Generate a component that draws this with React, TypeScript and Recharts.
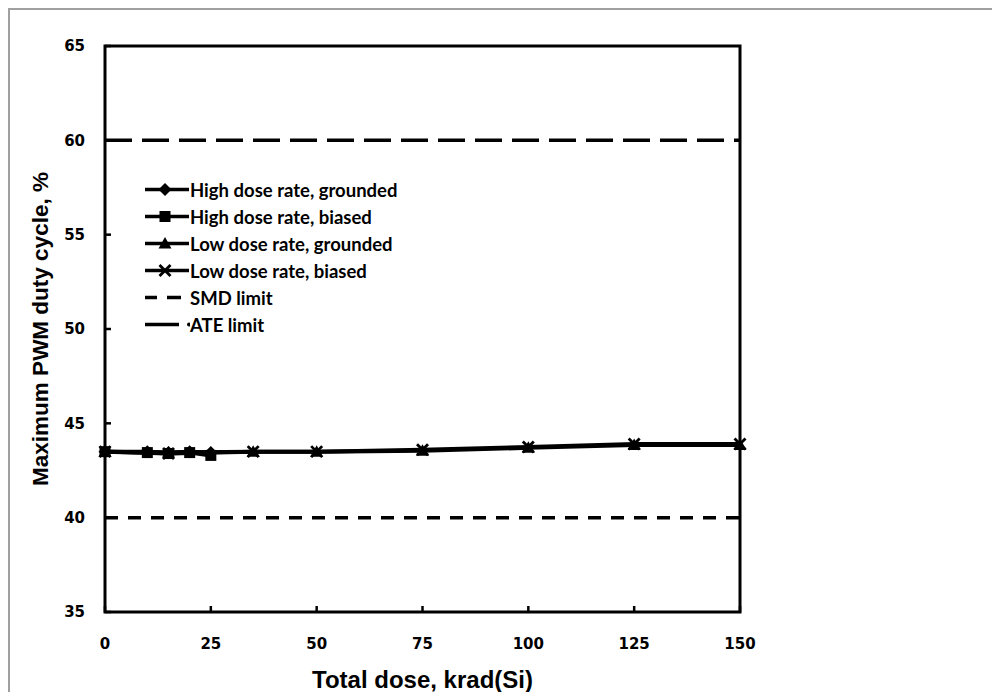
import React from "react";
import {
  LineChart,
  Line,
  XAxis,
  YAxis,
  ReferenceLine,
  ReferenceArea,
} from "recharts";

// axis ticks
const xTicks = [0, 25, 50, 75, 100, 125, 150];
const yTicks = [35, 40, 45, 50, 55, 60, 65];

// high dose rate samples
const hdrDose = [0, 10, 15, 20, 25];
const hdrGrounded = [43.5, 43.5, 43.45, 43.5, 43.45];
const hdrBiased = [43.5, 43.45, 43.4, 43.45, 43.3];

// low dose rate samples
const ldrDose = [0, 15, 35, 50, 75, 100, 125, 150];
const ldrGrounded = [43.5, 43.45, 43.5, 43.5, 43.55, 43.7, 43.85, 43.85];
const ldrBiased = [43.5, 43.4, 43.5, 43.5, 43.6, 43.75, 43.9, 43.9];

// spec limits
const smdLimit = 40;
const ateLimit = 60;

type MarkerKind = "diamond" | "square" | "triangle" | "cross";

const toPoints = (xs: number[], ys: number[]) =>
  xs.map((x, i) => ({ x, y: ys[i] }));

const series: { name: string; marker: MarkerKind; data: { x: number; y: number }[] }[] = [
  { name: "High dose rate, grounded", marker: "diamond", data: toPoints(hdrDose, hdrGrounded) },
  { name: "High dose rate, biased", marker: "square", data: toPoints(hdrDose, hdrBiased) },
  { name: "Low dose rate, grounded", marker: "triangle", data: toPoints(ldrDose, ldrGrounded) },
  { name: "Low dose rate, biased", marker: "cross", data: toPoints(ldrDose, ldrBiased) },
];

function Marker({ kind, cx, cy }: { kind: MarkerKind; cx: number; cy: number }) {
  if (kind === "diamond")
    return (
      <polygon
        points={`${cx},${cy - 6.5} ${cx + 6.5},${cy} ${cx},${cy + 6.5} ${cx - 6.5},${cy}`}
        fill="#000"
      />
    );
  if (kind === "square")
    return <rect x={cx - 5.5} y={cy - 5.5} width={11} height={11} fill="#000" />;
  if (kind === "triangle")
    return (
      <polygon
        points={`${cx},${cy - 6.5} ${cx + 6.5},${cy + 5} ${cx - 6.5},${cy + 5}`}
        fill="#000"
      />
    );
  return (
    <g stroke="#000" strokeWidth={2.8}>
      <line x1={cx - 5.5} y1={cy - 5.5} x2={cx + 5.5} y2={cy + 5.5} />
      <line x1={cx - 5.5} y1={cy + 5.5} x2={cx + 5.5} y2={cy - 5.5} />
    </g>
  );
}

const tickStyle = {
  fontFamily: "'DejaVu Sans', Verdana, sans-serif",
  fontWeight: 700,
  fontSize: 15,
  fill: "#000",
};

const titleStyle = {
  fontFamily: "'Liberation Sans', Arial, sans-serif",
  fontWeight: 700,
  fill: "#000",
};

function ChartLegend() {
  const rowH = 27;
  const rows = [
    ...series.map((s) => ({ name: s.name, marker: s.marker as MarkerKind | null, dash: "" })),
    { name: "SMD limit", marker: null, dash: "13 10" },
    { name: "ATE limit", marker: null, dash: "ate" },
  ];
  return (
    <div style={{ position: "absolute", left: 135, top: 166, width: 320 }}>
      {rows.map((r) => (
        <div
          key={r.name}
          style={{ display: "flex", alignItems: "center", height: rowH }}
        >
          <svg width={45} height={rowH}>
            {r.dash === "ate" ? (
              <>
                <line x1={0} y1={rowH / 2} x2={34} y2={rowH / 2} stroke="#000" strokeWidth={3.5} />
                <circle cx={44} cy={rowH / 2} r={2} fill="#000" />
              </>
            ) : r.dash ? (
              <>
                <line x1={0} y1={rowH / 2} x2={12} y2={rowH / 2} stroke="#000" strokeWidth={3.5} />
                <line x1={22} y1={rowH / 2} x2={36} y2={rowH / 2} stroke="#000" strokeWidth={3.5} />
              </>
            ) : (
              <>
                <line x1={0} y1={rowH / 2} x2={44} y2={rowH / 2} stroke="#000" strokeWidth={3.5} />
                <Marker kind={r.marker as MarkerKind} cx={20} cy={rowH / 2} />
              </>
            )}
          </svg>
          <span
            style={{
              fontFamily: "Lato, 'Open Sans', sans-serif",
              fontWeight: 700,
              fontSize: 18.5,
              color: "#000",
              whiteSpace: "nowrap",
            }}
          >
            {r.name}
          </span>
        </div>
      ))}
    </div>
  );
}

export default function App() {
  return (
    <div
      style={{
        position: "relative",
        width: 992,
        height: 684,
        boxSizing: "border-box",
        borderLeft: "2px solid #a0a0a0",
        borderTop: "2px solid #a0a0a0",
        background: "#fff",
      }}
    >
      <LineChart
        width={990}
        height={682}
        margin={{ top: 36, right: 260, bottom: 0, left: 0 }}
      >
        <XAxis
          type="number"
          dataKey="x"
          domain={[0, 150]}
          ticks={xTicks}
          interval={0}
          height={80}
          axisLine={false}
          tickSize={-6}
          tickMargin={32}
          tickLine={{ stroke: "#000", strokeWidth: 2.5 }}
          tick={tickStyle}
          label={{
            value: "Total dose, krad(Si)",
            position: "insideBottom",
            offset: 4,
            style: { ...titleStyle, fontSize: 24 },
          }}
        />
        <YAxis
          type="number"
          dataKey="y"
          domain={[35, 65]}
          ticks={yTicks}
          interval={0}
          width={95}
          axisLine={false}
          tickSize={-6}
          tickMargin={26}
          tickLine={{ stroke: "#000", strokeWidth: 2.5 }}
          tick={tickStyle}
          label={{
            value: "Maximum PWM duty cycle, %",
            angle: -90,
            position: "insideLeft",
            offset: 30,
            style: { ...titleStyle, fontSize: 22.5, textAnchor: "middle" },
          }}
        />
        <ReferenceArea
          x1={0}
          x2={150}
          y1={35}
          y2={65}
          fill="none"
          fillOpacity={0}
          stroke="#000"
          strokeWidth={3}
        />
        <ReferenceLine y={smdLimit} stroke="#000" strokeWidth={3.5} strokeDasharray="13 10" />
        <ReferenceLine y={ateLimit} stroke="#000" strokeWidth={3.5} strokeDasharray="27 10" />
        {series.map((s) => (
          <Line
            key={s.name}
            data={s.data}
            dataKey="y"
            name={s.name}
            stroke="#000"
            strokeWidth={4}
            isAnimationActive={false}
            dot={(p: any) => (
              <g key={`${s.name}-${p.index}`}>
                <Marker kind={s.marker} cx={p.cx} cy={p.cy} />
              </g>
            )}
            activeDot={false}
          />
        ))}
      </LineChart>
      <ChartLegend />
    </div>
  );
}
